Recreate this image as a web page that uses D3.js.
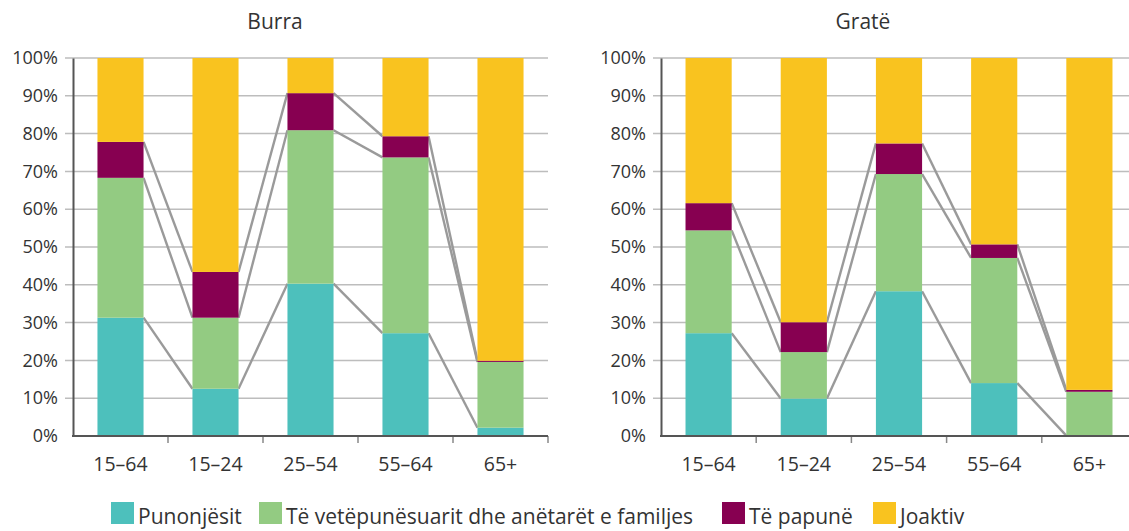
<!DOCTYPE html>
<html>
<head>
<meta charset="utf-8">
<script src="https://cdn.jsdelivr.net/npm/d3@7"></script>
<style>
  body { margin: 0; background: #fff; }
  text { font-family: "Open Sans", "Noto Sans", sans-serif; fill: #333; }
</style>
</head>
<body>
<div id="chart"></div>
<script>
// age groups and series
var ageGroups = ["15–64", "15–24", "25–54", "55–64", "65+"];
var seriesNames = ["Punonjësit", "Të vetëpunësuarit dhe anëtarët e familjes", "Të papunë", "Joaktiv"];
var seriesColors = ["#4dc0bc", "#93cb82", "#870051", "#f9c31f"];
var yTicks = [0, 10, 20, 30, 40, 50, 60, 70, 80, 90, 100];

// Burra (men), % per age group
var burraPunonjesit = [31.3, 12.5, 40.3, 27.2, 2.2];
var burraVetepunesuar = [37.0, 18.8, 40.6, 46.5, 17.4];
var burraPapune = [9.5, 12.1, 9.8, 5.6, 0.3];
var burraJoaktiv = [22.2, 56.6, 9.3, 20.7, 80.1];

// Gratë (women), % per age group
var gratePunonjesit = [27.2, 9.9, 38.3, 14.0, 0.1];
var grateVetepunesuar = [27.2, 12.3, 31.0, 33.1, 11.6];
var gratePapune = [7.2, 7.9, 8.1, 3.6, 0.5];
var grateJoaktiv = [38.4, 69.9, 22.6, 49.3, 87.8];

var panels = [
  {title: "Burra", left: 73, right: 548, series: [burraPunonjesit, burraVetepunesuar, burraPapune, burraJoaktiv]},
  {title: "Gratë", left: 661, right: 1137, series: [gratePunonjesit, grateVetepunesuar, gratePapune, grateJoaktiv]}
];

var width = 1129, height = 531;
var plotTop = 58, plotBottom = 436;

var svg = d3.select("#chart")
  .append("svg")
    .attr("width", width)
    .attr("height", height);

var y = d3.scaleLinear().domain([0, 100]).range([plotBottom, plotTop]);

panels.forEach(function(p) {
  var x = d3.scaleBand()
    .domain(ageGroups)
    .range([p.left, p.right])
    .paddingInner(0.515)
    .paddingOuter(0.2575);

  var g = svg.append("g");

  // gridlines
  g.append("g")
    .selectAll("line")
    .data(yTicks.slice(1))
    .enter()
    .append("line")
    .attr("x1", p.left - 8)
    .attr("x2", p.right)
    .attr("y1", function(d) { return y(d); })
    .attr("y2", function(d) { return y(d); })
    .attr("stroke", "#bdbdbd")
    .attr("stroke-width", 1.5);

  // stack data
  var rows = ageGroups.map(function(a, i) {
    var r = {age: a};
    seriesNames.forEach(function(s, k) { r[s] = p.series[k][i]; });
    return r;
  });
  var stacked = d3.stack().keys(seriesNames)(rows);

  // connector lines between bars
  var line = d3.line();
  stacked.slice(0, 3).forEach(function(layer) {
    for (var i = 0; i < layer.length - 1; i++) {
      var x1 = x(ageGroups[i]) + x.bandwidth();
      var x2 = x(ageGroups[i + 1]);
      g.append("path")
        .attr("d", line([[x1, y(layer[i][1])], [x2, y(layer[i + 1][1])]]))
        .attr("stroke", "#9a9a9a")
        .attr("stroke-width", 2.4)
        .attr("fill", "none");
    }
  });

  // bars
  g.append("g")
    .selectAll("g")
    .data(stacked)
    .enter()
    .append("g")
    .attr("fill", function(d, k) { return seriesColors[k]; })
    .selectAll("rect")
    .data(function(d) { return d; })
    .enter()
    .append("rect")
    .attr("x", function(d) { return x(d.data.age); })
    .attr("y", function(d) { return y(d[1]); })
    .attr("height", function(d) { return y(d[0]) - y(d[1]); })
    .attr("width", x.bandwidth());

  // y axis
  var yAxis = g.append("g")
    .attr("transform", "translate(" + p.left + ",0)")
    .call(d3.axisLeft(y).tickValues(yTicks).tickSize(0).tickPadding(15).tickFormat(function(d) { return d + "%"; }));
  yAxis.select(".domain").attr("stroke", "#555").attr("stroke-width", 2);
  yAxis.attr("font-family", null);
  yAxis.selectAll("text").style("font-size", "18px").attr("fill", "#333");

  // x axis
  var boundaries = ageGroups.map(function(a, i) { return p.left + (p.right - p.left) / ageGroups.length * (i + 1); });
  g.append("g")
    .selectAll("line")
    .data(boundaries)
    .enter()
    .append("line")
    .attr("x1", function(d) { return d; })
    .attr("x2", function(d) { return d; })
    .attr("y1", plotBottom)
    .attr("y2", plotBottom + 7)
    .attr("stroke", "#888")
    .attr("stroke-width", 1.5);
  g.append("line")
    .attr("x1", p.left - 1)
    .attr("x2", p.right)
    .attr("y1", plotBottom)
    .attr("y2", plotBottom)
    .attr("stroke", "#555")
    .attr("stroke-width", 2);

  g.append("g")
    .selectAll("text")
    .data(ageGroups)
    .enter()
    .append("text")
    .attr("x", function(d) { return x(d) + x.bandwidth() / 2; })
    .attr("y", 471)
    .attr("text-anchor", "middle")
    .style("font-size", "19.5px")
    .text(function(d) { return d; });

  // title
  g.append("text")
    .attr("x", p.left + 202)
    .attr("y", 29)
    .attr("text-anchor", "middle")
    .style("font-size", "21px")
    .text(p.title);
});

// legend
var legendX = [111, 259, 722, 873];
var legend = svg.append("g")
  .selectAll("g")
  .data(seriesNames)
  .enter()
  .append("g")
  .attr("transform", function(d, i) { return "translate(" + legendX[i] + ",502)"; });
legend.append("rect")
  .attr("width", 23)
  .attr("height", 22)
  .attr("fill", function(d, i) { return seriesColors[i]; });
legend.append("text")
  .attr("x", 27)
  .attr("y", 22)
  .style("font-size", "21px")
  .text(function(d) { return d; });
</script>
</body>
</html>
